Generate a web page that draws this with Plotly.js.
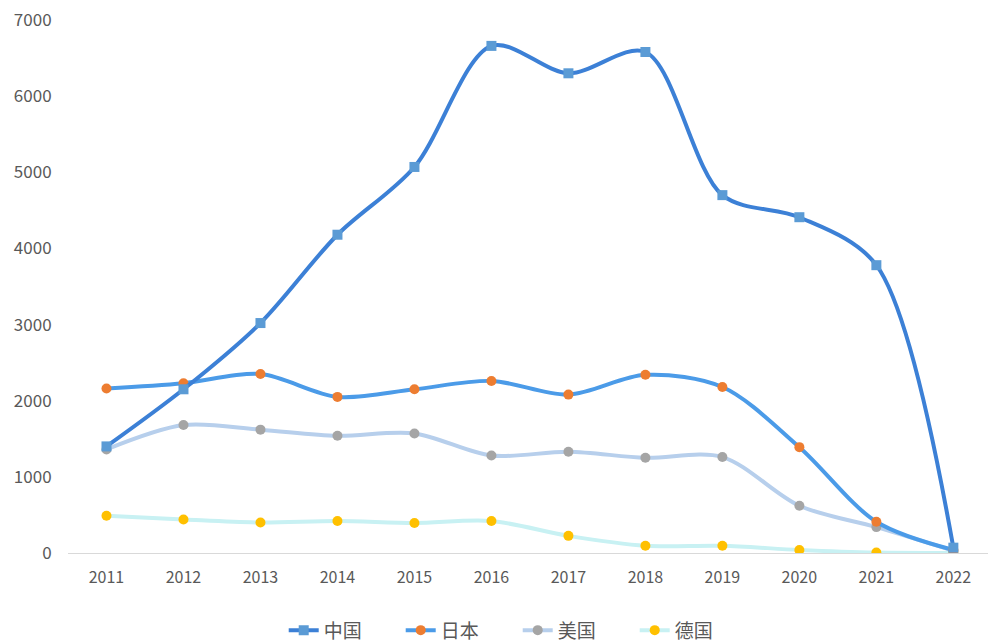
<!DOCTYPE html>
<html>
<head>
<meta charset="utf-8">
<script src="https://cdn.plot.ly/plotly-3.0.1.min.js"></script>
<style>html,body{margin:0;padding:0;background:#fff;}#chart{width:988px;height:642px;}</style>
</head>
<body>
<div id="chart"></div>
<script>
const years = ["2011","2012","2013","2014","2015","2016","2017","2018","2019","2020","2021","2022"];
const china = [1400, 2150, 3020, 4180, 5070, 6660, 6300, 6580, 4700, 4410, 3780, 70];
const japan = [2160, 2230, 2350, 2050, 2150, 2260, 2080, 2340, 2180, 1390, 410, 40];
const usa = [1360, 1680, 1620, 1540, 1570, 1280, 1330, 1250, 1260, 620, 340, 30];
const germany = [490, 440, 400, 420, 395, 420, 225, 95, 95, 40, 5, 0];
const names = ["中国", "日本", "美国", "德国"];

function tr(y, name, lineColor, mColor, symbol, width){
  return {x: years, y: y, name: name, type: 'scatter', mode: 'lines+markers',
    line: {color: lineColor, width: width, shape: 'spline', smoothing: 0.9},
    marker: {color: mColor, size: 10, symbol: symbol, line: {width: 0}}};
}
const data = [
  tr(germany, names[3], '#c8f1f3', '#ffc000', 'circle', 4),
  tr(usa, names[2], '#b7cfec', '#a5a5a5', 'circle', 4),
  tr(japan, names[1], '#4b9be8', '#ed7d31', 'circle', 4),
  tr(china, names[0], '#3c80d6', '#5b9bd5', 'square', 4)
];
const layout = {
  width: 988, height: 642,
  margin: {l: 68, r: 0, t: 20, b: 89, autoexpand: false},
  paper_bgcolor: '#ffffff', plot_bgcolor: '#ffffff',
  font: {family: '"Noto Sans CJK SC", "Noto Sans", sans-serif', size: 16, color: '#595959'},
  showlegend: true,
  legend: {orientation: 'h', xref: 'container', yref: 'paper', x: 0.524, xanchor: 'center',
    y: -0.145, yanchor: 'middle', traceorder: 'reversed', entrywidth: 72,
    font: {size: 19, color: '#595959'}},
  xaxis: {type: 'category', range: [-0.5, 11.45], showgrid: false, zeroline: false,
    showline: true, linecolor: '#d9d9d9', linewidth: 1, ticks: 'outside', ticklen: 10,
    tickcolor: 'rgba(0,0,0,0)', tickfont: {size: 16, color: '#595959'}},
  yaxis: {range: [0, 7000], dtick: 1000, showgrid: false, zeroline: false, showline: false,
    ticks: 'outside', ticklen: 12, tickcolor: 'rgba(0,0,0,0)', tickfont: {size: 17, color: '#595959'}}
};
Plotly.newPlot('chart', data, layout, {displayModeBar: false});
</script>
</body>
</html>
